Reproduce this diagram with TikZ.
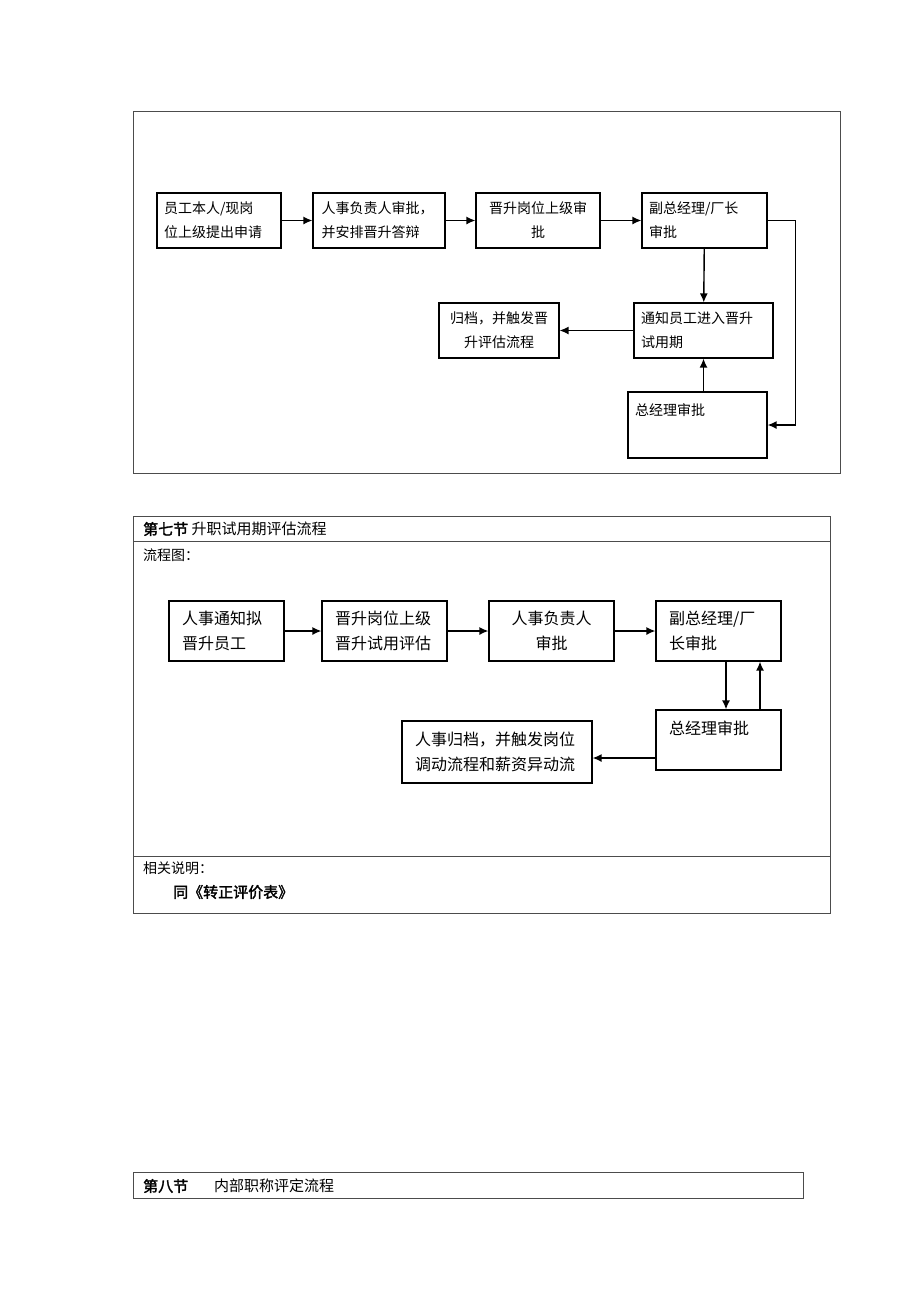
\documentclass[tikz,border=0pt]{standalone}
\usepackage{fontspec}
\setmainfont{Noto Sans CJK SC}[AutoFakeBold=2]
\usetikzlibrary{arrows.meta}

\begin{document}
\begin{tikzpicture}[x = 1pt, y = -1pt,
  box/.style = {draw, line width = 1.2pt, inner xsep = 7pt, inner ysep = 0pt, minimum height = 55pt, font = \fontsize{14}{24}\selectfont},
  boxb/.style = {draw, line width = 1.2pt, inner xsep = 13pt, inner ysep = 0pt, minimum height = 60pt, font = \fontsize{16}{25}\selectfont},
  arr/.style = {-{Latex[length = 9pt, width = 8pt]}, line width = 1.4pt},
  frame/.style = {draw = black!70, line width = 0.9pt},
  head/.style = {anchor = west, inner sep = 0pt}]

\useasboundingbox (0, 0) rectangle (920, 1302);

% promotion approval
\draw[frame] (133, 111) rectangle (840, 473);

\node[box, text width = 110pt, align = left] (apply) at (219, 220.5) {员工本人/现岗\\位上级提出申请};
\node[box, text width = 115pt, inner xsep = 8.5pt, align = left] (hrok) at (379, 220.5) {人事负责人审批，\\并安排晋升答辩};
\node[box, text width = 110pt, align = center] (boss) at (538, 220.5) {晋升岗位上级审\\批};
\node[box, text width = 111pt, align = left] (vgm) at (704.5, 220.5) {副总经理/厂长\\审批};
\node[box, text width = 125pt, align = left] (notify) at (703.5, 330.5) {通知员工进入晋升\\试用期};
\node[box, text width = 106pt, align = center] (archive) at (499, 330.5) {归档，并触发晋\\升评估流程};
\node[box, text width = 125pt, align = left, minimum height = 66pt, text height = 12pt, text depth = 32pt] (gm) at (697.5, 425) {总经理审批};

\draw[arr] (apply) -- (hrok);
\draw[arr] (hrok) -- (boss);
\draw[arr] (boss) -- (vgm);
\draw[arr] (vgm) -- (notify);
\draw[arr] (vgm.east) -- ++(28, 0) |- (gm.east);
\draw[arr] (gm.north -| notify) -- (notify.south);
\draw[arr] (notify) -- (archive);

% section 7
\draw[frame] (133, 516) rectangle (830, 913);
\draw[frame] (133, 541) -- (830, 541);
\draw[frame] (133, 856) -- (830, 856);

\node[head, font = \fontsize{15}{18}\selectfont] (title7) at (143, 529) {\textbf{第七节} 升职试用期评估流程};
\node[head, font = \fontsize{14}{18}\selectfont] (chart7) at (143, 555) {流程图：};
\node[head, font = \fontsize{14}{18}\selectfont] (note7) at (143, 868) {相关说明：};
\node[head, font = \fontsize{15}{18}\selectfont] (ref7) at (173, 892) {\textbf{同《转正评价表》}};

\node[boxb, text width = 89pt, align = left] (hrnote) at (226.5, 631) {人事通知拟\\晋升员工};
\node[boxb, text width = 99pt, align = left] (eval) at (384.5, 631) {晋升岗位上级\\晋升试用评估};
\node[boxb, text width = 99pt, align = center] (hrhead) at (551.5, 631) {人事负责人\\审批};
\node[boxb, text width = 99pt, align = left] (vgm2) at (718.5, 631) {副总经理/厂\\长审批};
\node[boxb, text width = 99pt, align = left, text height = 14pt, text depth = 26pt] (gm2) at (718.5, 740) {总经理审批};
\node[boxb, text width = 164pt, align = left, minimum height = 62pt] (file2) at (497, 752) {人事归档，并触发岗位\\调动流程和薪资异动流};

\draw[arr] (hrnote) -- (eval);
\draw[arr] (eval) -- (hrhead);
\draw[arr] (hrhead) -- (vgm2);
\draw[arr] ([xshift = 7.5pt]vgm2.south) -- ([xshift = 7.5pt]gm2.north);
\draw[arr] ([xshift = 41.5pt]gm2.north) -- ([xshift = 41.5pt]vgm2.south);
\draw[arr] ([yshift = -18pt]gm2.west) -- ([yshift = -18pt]gm2.west -| file2.east);

% section 8
\draw[frame] (133, 1172) rectangle (803, 1198);
\node[head, font = \fontsize{15}{18}\selectfont] (title8) at (143, 1186) {\textbf{第八节}\hspace{26pt}内部职称评定流程};
\end{tikzpicture}
\end{document}
